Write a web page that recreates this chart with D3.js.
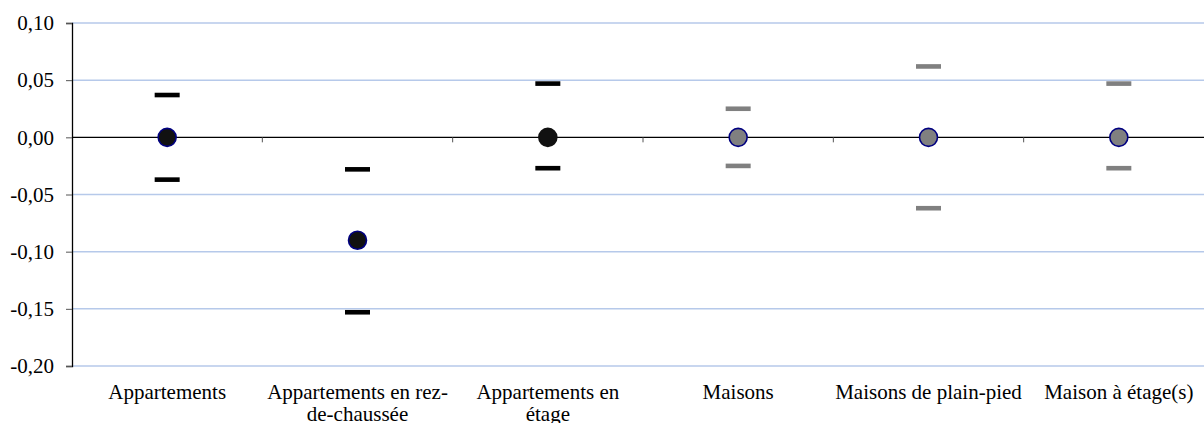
<!DOCTYPE html>
<html>
<head>
<meta charset="utf-8">
<script src="https://cdn.jsdelivr.net/npm/d3@7"></script>
<style>
  body { margin: 0; background: #fff; }
  svg { display: block; }
  text { font-family: "Liberation Serif", "Times New Roman", serif; fill: #000; }
</style>
</head>
<body>
<div id="chart"></div>
<script>
// ==== data ====
const categories = [
  "Appartements",
  "Appartements en rez-de-chaussée",
  "Appartements en étage",
  "Maisons",
  "Maisons de plain-pied",
  "Maison à étage(s)"
];
// wrapped tick labels, as in the picture
const labelLines = [
  ["Appartements"],
  ["Appartements en rez-", "de-chaussée"],
  ["Appartements en", "étage"],
  ["Maisons"],
  ["Maisons de plain-pied"],
  ["Maison à étage(s)"]
];
const means = [0, -0.09, 0, 0, 0, 0];
const upper = [0.037, -0.028, 0.047, 0.025, 0.062, 0.047];
const lower = [-0.037, -0.153, -0.027, -0.025, -0.062, -0.027];
const yTicks = [0.10, 0.05, 0.00, -0.05, -0.10, -0.15, -0.20];

const W = 1204, H = 423;

const svg = d3.select("#chart").append("svg")
  .attr("width", W)
  .attr("height", H);

// ==== scales ====
const x = d3.scaleBand()
  .domain(categories)
  .range([72, 1214]);

const y = d3.scaleLinear()
  .domain([-0.20, 0.10])
  .range([366, 23]);

const fmt = v => d3.format(".2f")(v).replace(".", ",").replace("−", "-");

// gridlines
svg.append("g")
  .selectAll("line")
  .data(yTicks.filter(t => t !== 0))
  .enter().append("line")
    .attr("x1", 72).attr("x2", W)
    .attr("y1", d => y(d)).attr("y2", d => y(d))
    .attr("stroke", "#b6c9ea")
    .attr("stroke-width", 1.5);

// y axis
const yAxis = svg.append("g")
  .attr("transform", "translate(72,0)")
  .call(d3.axisLeft(y).tickValues(yTicks).tickSize(6).tickPadding(12).tickFormat(fmt))
  .attr("font-family", '"Liberation Serif", serif')
  .attr("font-size", 21);
yAxis.select(".domain").attr("stroke", "#000").attr("stroke-width", 1.3);
yAxis.selectAll(".tick line").attr("stroke", "#555");
yAxis.selectAll(".tick text").attr("fill", "#000");

// zero line with category ticks
svg.append("line")
  .attr("x1", 72).attr("x2", W)
  .attr("y1", y(0)).attr("y2", y(0))
  .attr("stroke", "#000")
  .attr("stroke-width", 1.3);

svg.append("g")
  .selectAll("line")
  .data(categories.slice(1))
  .enter().append("line")
    .attr("x1", d => x(d)).attr("x2", d => x(d))
    .attr("y1", y(0)).attr("y2", y(0) + 5)
    .attr("stroke", "#555")
    .attr("stroke-width", 1);

// x labels
const labels = svg.append("g")
  .selectAll("text")
  .data(categories)
  .enter().append("text")
    .attr("x", d => x(d) + x.bandwidth() / 2)
    .attr("y", 399)
    .attr("text-anchor", "middle")
    .style("font-size", "21px");
labels.each(function(d, i) {
  d3.select(this).selectAll("tspan")
    .data(labelLines[i])
    .enter().append("tspan")
      .attr("x", x(d) + x.bandwidth() / 2)
      .attr("dy", (t, j) => j === 0 ? 0 : 22)
      .text(t => t);
});

// ==== marks ====
const cx = d => x(d) + x.bandwidth() / 2;
const barColor = i => i < 3 ? "#000" : "#808080";

svg.append("g").selectAll("rect.up")
  .data(categories)
  .enter().append("rect")
    .attr("x", d => cx(d) - 12.5)
    .attr("y", (d, i) => y(upper[i]) - 2.3)
    .attr("width", 25).attr("height", 4.6)
    .attr("fill", (d, i) => barColor(i));

svg.append("g").selectAll("rect.low")
  .data(categories)
  .enter().append("rect")
    .attr("x", d => cx(d) - 12.5)
    .attr("y", (d, i) => y(lower[i]) - 2.3)
    .attr("width", 25).attr("height", 4.6)
    .attr("fill", (d, i) => barColor(i));

svg.append("g").selectAll("circle")
  .data(categories)
  .enter().append("circle")
    .attr("cx", d => cx(d))
    .attr("cy", (d, i) => y(means[i]))
    .attr("r", 9)
    .attr("fill", (d, i) => i < 3 ? "#111" : "#808080")
    .attr("stroke", (d, i) => i === 2 ? "#111" : "#000080")
    .attr("stroke-width", 1.6);
</script>
</body>
</html>
